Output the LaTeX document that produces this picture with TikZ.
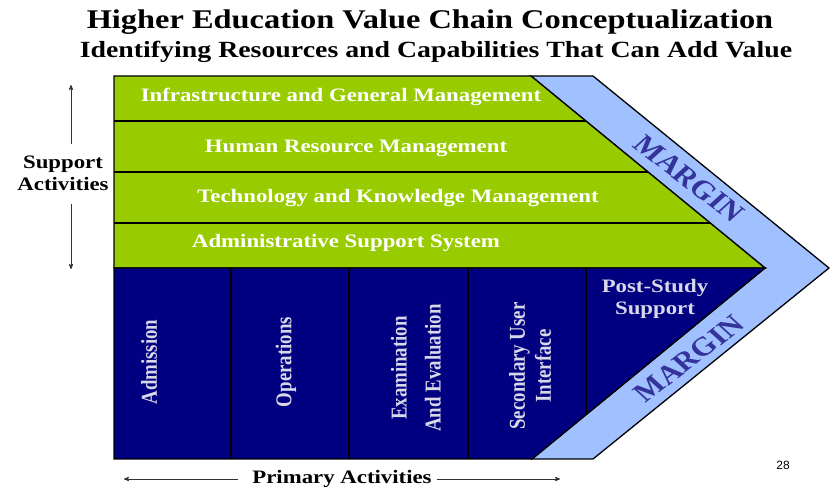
\documentclass[tikz,border=0pt]{standalone}
\usepackage{fontspec}
\setmainfont[FakeStretch=1.2]{Liberation Serif}
\newfontfamily\narrowserif[FakeStretch=0.83]{Liberation Serif}
\newfontfamily\plainserif{Liberation Serif}
\newfontfamily\pagefont{Liberation Sans}
\usetikzlibrary{arrows,positioning}

\definecolor{supportgreen}{HTML}{99CC00}
\definecolor{primarynavy}{HTML}{000080}
\definecolor{marginblue}{HTML}{A0C0FF}
\definecolor{margintext}{HTML}{333399}
\definecolor{columntext}{HTML}{D8D8E8}

\begin{document}
\begin{tikzpicture}[x=1pt,y=1pt,>=stealth',semithick,
    outline/.style={draw=black,line width=1.3pt,line join=miter},
    rowlabel/.style={text=white,font=\bfseries\fontsize{19}{22}\selectfont},
    collabel/.style={text=columntext,rotate=90,align=center,font=\narrowserif\bfseries\fontsize{22.7}{26}\selectfont},
    sidelabel/.style={align=center,font=\bfseries\fontsize{19}{22}\selectfont},
    marginlabel/.style={text=margintext,inner sep=0pt,transform shape,font=\plainserif\bfseries\fontsize{26.5}{30}\selectfont},
    pointer/.style={->,draw=black!80,line width=0.8pt}]
  \useasboundingbox (0,0) rectangle (835,500);

  % titles
  \node (title) at (430,478) {\bfseries\fontsize{27}{30}\selectfont Higher Education Value Chain Conceptualization};
  \node (subtitle) at (436,448) {\bfseries\fontsize{23.2}{26}\selectfont Identifying Resources and Capabilities That Can Add Value};

  % margin band, support block, primary block
  \fill[marginblue,outline] (531,424) -- (593,424) -- (829,232) -- (593,41) -- (532,41) -- (765,232) -- cycle;
  \fill[supportgreen,outline] (114,424) -- (531,424) -- (765,232) -- (114,232) -- cycle;
  \fill[primarynavy,outline] (114,232) -- (765,232) -- (532,41) -- (114,41) -- cycle;

  % row and column lines
  \draw[outline] (114,379) -- (585.8,379);
  \draw[outline] (114,328) -- (648,328);
  \draw[outline] (114,277) -- (710.2,277);
  \foreach \x in {231,349,468}
    \draw[outline] (\x,232) -- (\x,41);
  \draw[outline] (586,232) -- (586,85.3);

  % support activities
  \node[rowlabel] (infra) at (341,403) {Infrastructure and General Management};
  \node[rowlabel] (hrm) at (356,352) {Human Resource Management};
  \node[rowlabel] (tkm) at (398,302) {Technology and Knowledge Management};
  \node[rowlabel] (admin) at (346,257) {Administrative Support System};

  % primary activities
  \node[collabel] (admission) at (149,138) {Admission};
  \node[collabel] (operations) at (286,138) {Operations};
  \node[collabel] (exam) at (416,132) {Examination\\[8pt]And Evaluation};
  \node[collabel] (secondary) at (530,134) {Secondary User\\Interface};
  \node[rowlabel,text=columntext,align=center] (post) at (655,201) {Post-Study\\Support};

  % margin (stretched sideways like the rest of the slide)
  \begin{scope}[shift={(689,321)},xscale=1.2]
    \node[marginlabel,rotate=-42.6] (margintop) at (0,0) {MARGIN};
  \end{scope}
  \begin{scope}[shift={(689,141)},xscale=1.2]
    \node[marginlabel,rotate=42.6] (marginbot) at (0,0) {MARGIN};
  \end{scope}

  % side labels
  \node[sidelabel] (sa) at (63,327) {Support\\Activities};
  \coordinate (saTop) at (71,415);
  \coordinate (saBot) at (71,231);
  \draw[pointer] ([yshift=8pt]sa.north -| saTop) -- (saTop);
  \draw[pointer] ([yshift=-10pt]sa.south -| saBot) -- (saBot);

  \node[sidelabel,inner sep=0pt] (pa) at (342,21) {Primary Activities};
  \coordinate (paLeft) at (124,21);
  \coordinate (paRight) at (560,21);
  \draw[pointer] ([xshift=-14pt]pa.west) -- (paLeft);
  \draw[pointer] ([xshift=5pt]pa.east) -- (paRight);

  \node[font=\pagefont\fontsize{12}{14}\selectfont] (page) at (783,35) {28};
\end{tikzpicture}
\end{document}
